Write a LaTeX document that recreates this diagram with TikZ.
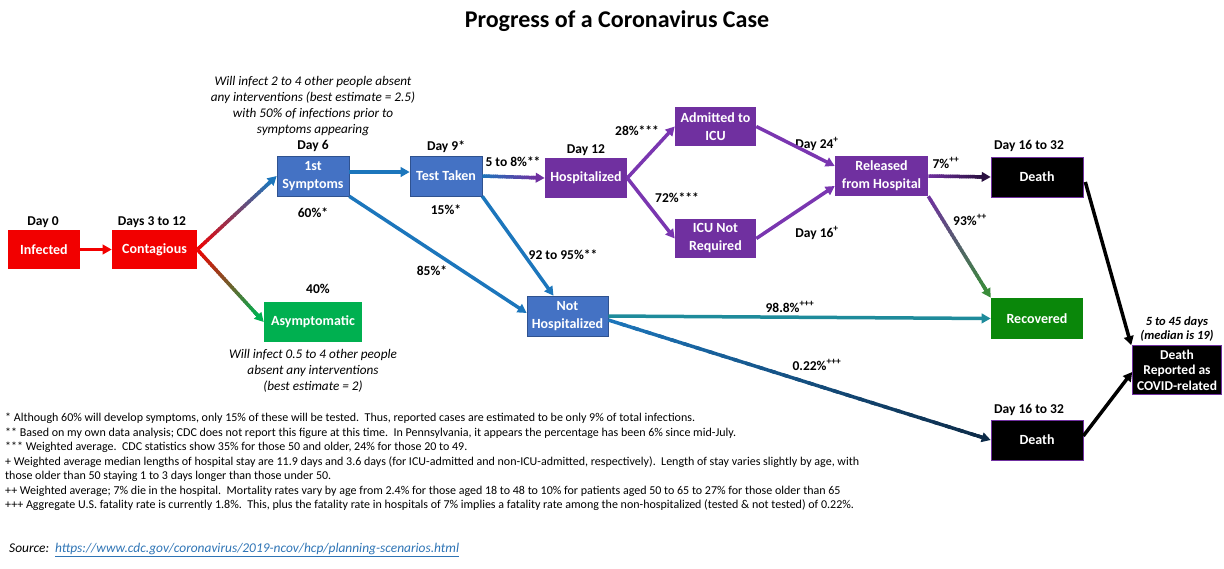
\documentclass[tikz,border=0pt]{standalone}
\usepackage{fontspec}
\setmainfont{Carlito}
\usetikzlibrary{arrows.meta,calc}
\definecolor{cred}{HTML}{F20000}
\definecolor{bbox}{HTML}{4472C4}
\definecolor{bborder}{HTML}{2F528F}
\definecolor{barrow}{HTML}{1C76BC}
\definecolor{pbox}{HTML}{7030A0}
\definecolor{parrow}{HTML}{7A36B0}
\definecolor{gbox}{HTML}{00B050}
\definecolor{grec}{HTML}{0A870A}
\definecolor{teal}{HTML}{1E8B9B}
\definecolor{navy}{HTML}{0D2B48}
\definecolor{dpurp}{HTML}{2A1040}
\definecolor{ggreen}{HTML}{3A8C3A}
\definecolor{link}{HTML}{2E74B5}
\newcommand\garrow[4]{%
  \coordinate (gA) at (#1);
  \coordinate (gZ) at (#2);
  \coordinate (gB) at ($(gZ)!8pt!(gA)$);
  \draw[conn,#4] ($(gZ)!14pt!(gA)$) -- (gZ);
  \foreach \k in {0,...,29}{%
    \pgfmathsetmacro\pa{\k/30}%
    \pgfmathsetmacro\pb{min((\k+1.4)/30,1)}%
    \pgfmathtruncatemacro\pc{100-100*(\k+0.5)/30}%
    \draw[line width=3.5pt,#3!\pc!#4] ($(gA)!\pa!(gB)$) -- ($(gA)!\pb!(gB)$);
  }%
}
\begin{document}
\begin{tikzpicture}[x=1pt,y=-1pt,
  box/.style={text=white, font=\bfseries\fontsize{14}{18}\selectfont, align=center, inner sep=1pt, line width=0.6pt},
  lab/.style={font=\bfseries\fontsize{13.5}{16}\selectfont, inner sep=0pt},
  note/.style={font=\itshape\fontsize{13.2}{16}\selectfont, align=center, inner sep=0pt},
  conn/.style={line width=3.5pt, -{Triangle[length=9pt,width=9.5pt]}}]
\useasboundingbox (0,0) rectangle (1224,568);

\node[font=\bfseries\fontsize{24}{28}\selectfont, inner sep=0pt] (title) at (617,21) {Progress of a Coronavirus Case};

% boxes
\node[box, fill=cred, minimum width=72pt, minimum height=39pt] (inf) at (44,249.5) {Infected};
\node[box, fill=cred, minimum width=85pt, minimum height=39pt] (cont) at (154.5,249.5) {Contagious};
\node[box, fill=bbox, draw=bborder, minimum width=72pt, minimum height=40pt] (sym) at (313,176) {1st\\Symptoms};
\node[box, fill=gbox, minimum width=98pt, minimum height=40pt] (asym) at (313,322) {Asymptomatic};
\node[box, fill=bbox, draw=bborder, minimum width=72pt, minimum height=40pt] (test) at (446,176) {Test Taken};
\node[box, fill=pbox, minimum width=82pt, minimum height=40pt] (hosp) at (586,178) {Hospitalized};
\node[box, fill=pbox, minimum width=81pt, minimum height=39pt] (icu) at (715.5,126.5) {Admitted to\\ICU};
\node[box, fill=pbox, minimum width=81pt, minimum height=39pt] (nicu) at (715.5,238.5) {ICU Not\\Required};
\node[box, fill=bbox, draw=bborder, minimum width=81pt, minimum height=40pt] (nh) at (567.5,316) {Not\\Hospitalized};
\node[box, fill=pbox, minimum width=93pt, minimum height=40pt] (rel) at (881.5,176) {Released\\from Hospital};
\node[box, fill=black, draw=pbox, minimum width=92pt, minimum height=40pt] (d1) at (1037,177) {Death};
\node[box, fill=grec, minimum width=92pt, minimum height=41pt] (rec) at (1037,318.5) {Recovered};
\node[box, fill=black, draw=pbox, minimum width=92pt, minimum height=40pt] (d2) at (1037,440) {Death};
\node[box, fill=black, draw=pbox, minimum width=89pt, minimum height=49pt, font=\bfseries\fontsize{13.5}{15.5}\selectfont] (dr) at (1177,370) {Death\\Reported as\\COVID-related};

% labels
\node[lab] (l0) at (43,222) {Day 0};
\node[lab] (l1) at (152,222) {Days 3 to 12};
\node[lab] (l2) at (313,146) {Day 6};
\node[lab] (l3) at (313,213) {60\%*};
\node[lab] (l4) at (318,289) {40\%};
\node[note] (n1) at (313,106) {Will infect 2 to 4 other people absent\\any interventions (best estimate = 2.5)\\with 50\% of infections prior to\\symptoms appearing};
\node[note] (n2) at (313,371) {Will infect 0.5 to 4 other people\\absent any interventions\\(best estimate = 2)};
\node[lab] (l5) at (446,147) {Day 9*};
\node[lab] (l6) at (446,210) {15\%*};
\node[lab] (l7) at (513,162) {5 to 8\%**};
\node[lab] (l8) at (586,150) {Day 12};
\node[lab] (l9) at (637,131) {28\%***};
\node[lab] (l10) at (677,198) {72\%***};
\node[lab] (l11) at (432,271) {85\%*};
\node[lab] (l12) at (563,255) {92 to 95\%**};
\node[lab] (l13) at (817,144) {Day 24\textsuperscript{+}};
\node[lab] (l14) at (817,233) {Day 16\textsuperscript{+}};
\node[lab] (l15) at (946,163) {7\%\textsuperscript{++}};
\node[lab] (l16) at (970,220) {93\%\textsuperscript{++}};
\node[lab] (l17) at (1029,146) {Day 16 to 32};
\node[lab] (l18) at (790,307) {98.8\%\textsuperscript{+++}};
\node[lab] (l19) at (817,365) {0.22\%\textsuperscript{+++}};
\node[lab] (l20) at (1029,410) {Day 16 to 32};
\node[font=\bfseries\itshape\fontsize{12.5}{14}\selectfont, align=center, inner sep=0pt] (l21) at (1177,329) {5 to 45 days\\(median is 19)};

% connectors
\draw[conn, cred] (inf.east) -- (cont.west);
\garrow{cont.east}{sym.west}{cred}{barrow}
\garrow{cont.east}{asym.west}{cred}{gbox}
\draw[conn, barrow] ([yshift=4pt]sym.east) -- ([yshift=4pt]test.west);
\draw[conn, barrow] (sym.south east) -- ([yshift=3pt]nh.west);
\draw[conn, barrow] (test.south east) -- ([xshift=-14pt]nh.north);
\garrow{test.east}{hosp.west}{barrow}{pbox}
\draw[conn, parrow] (hosp.east) -- (icu.west);
\draw[conn, parrow] (hosp.east) -- (nicu.west);
\draw[conn, parrow] (icu.east) -- ([yshift=10pt]rel.west);
\draw[conn, parrow] (nicu.east) -- ([yshift=-10pt]rel.west);
\garrow{rel.east}{d1.west}{pbox}{dpurp}
\garrow{rel.south east}{rec.north west}{pbox}{ggreen}
\draw[conn, teal] (nh.east) -- (rec.west);
\garrow{[yshift=-4pt]nh.east}{d2.west}{barrow}{navy}
\draw[conn, black] ([yshift=-5pt,xshift=2pt]d1.east) -- ([xshift=-1pt]dr.north west);
\draw[conn, black] ([yshift=4pt]d2.east) -- ([yshift=-2pt]dr.west);

% footnotes
\node[anchor=north west, align=left, inner sep=0pt, font=\fontsize{12}{14.5}\selectfont] (fn) at (5,413) {%
* Although 60\% will develop symptoms, only 15\% of these will be tested.\ \ Thus, reported cases are estimated to be only 9\% of total infections.\\
** Based on my own data analysis; CDC does not report this figure at this time.\ \ In Pennsylvania, it appears the percentage has been 6\% since mid-July.\\
*** Weighted average.\ \ CDC statistics show 35\% for those 50 and older, 24\% for those 20 to 49.\\
+ Weighted average median lengths of hospital stay are 11.9 days and 3.6 days (for ICU-admitted and non-ICU-admitted, respectively).\ \ Length of stay varies slightly by age, with\\
those older than 50 staying 1 to 3 days longer than those under 50.\\
++ Weighted average; 7\% die in the hospital.\ \ Mortality rates vary by age from 2.4\% for those aged 18 to 48 to 10\% for patients aged 50 to 65 to 27\% for those older than 65\\
+++ Aggregate U.S. fatality rate is currently 1.8\%.\ \ This, plus the fatality rate in hospitals of 7\% implies a fatality rate among the non-hospitalized (tested \& not tested) of 0.22\%.};
\node[anchor=west, inner sep=0pt, font=\itshape\fontsize{13.4}{15}\selectfont] (src) at (9,550) {Source:\ \ \textcolor{link}{\underline{https://www.cdc.gov/coronavirus/2019-ncov/hcp/planning-scenarios.html}}};
\end{tikzpicture}
\end{document}
